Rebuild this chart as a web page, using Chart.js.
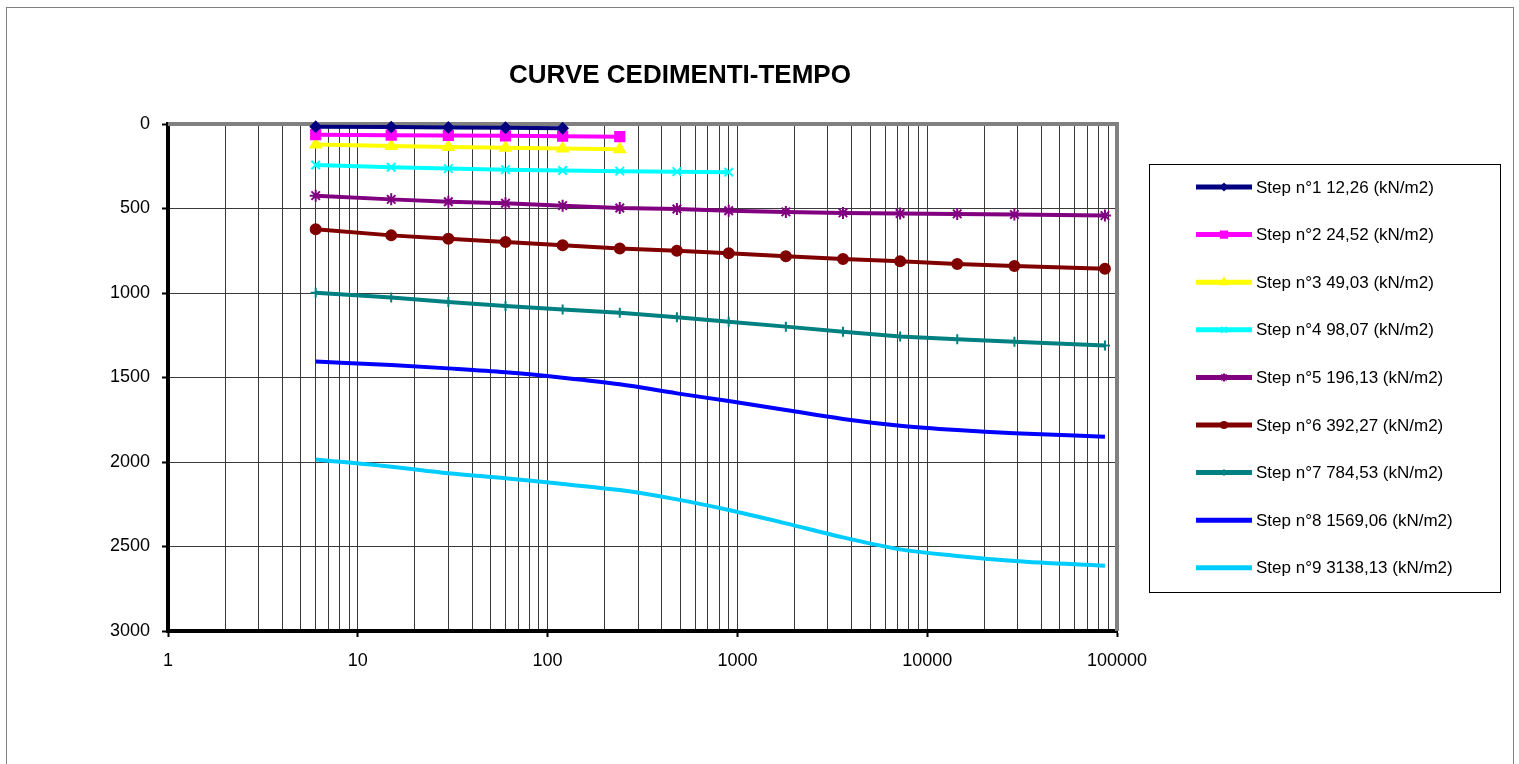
<!DOCTYPE html>
<html>
<head>
<meta charset="utf-8">
<title>Curve cedimenti-tempo</title>
<script src="https://cdn.jsdelivr.net/npm/chart.js@4.4.0/dist/chart.umd.min.js"></script>
<style>
    body { margin: 0; background: #fff; }
    #wrap { position: relative; width: 1519px; height: 764px; }
</style>
</head>
<body>
<div id="wrap"><canvas id="cedimenti_chart"></canvas></div>
<script>

// tempi di lettura (s)
const tempi = [6, 15, 30, 60, 120, 240, 480, 900, 1800, 3600, 7200, 14400, 28800, 86400];

const step_labels = [
    'Step n°1 12,26 (kN/m2)',
    'Step n°2 24,52 (kN/m2)',
    'Step n°3 49,03 (kN/m2)',
    'Step n°4 98,07 (kN/m2)',
    'Step n°5 196,13 (kN/m2)',
    'Step n°6 392,27 (kN/m2)',
    'Step n°7 784,53 (kN/m2)',
    'Step n°8 1569,06 (kN/m2)',
    'Step n°9 3138,13 (kN/m2)'
];

// cedimenti letti per ogni step
const step1 = [16, 18, 20, 22, 25];
const step2 = [63, 66, 68, 70, 72, 75];
const step3 = [122, 130, 136, 140, 145, 150];
const step4 = [243, 256, 264, 270, 275, 279, 282, 285];
const step5 = [424, 446, 460, 469, 483, 497, 503, 513, 520, 526, 530, 532, 536, 542];
const step6 = [623, 659, 679, 698, 718, 737, 750, 765, 783, 799, 812, 828, 840, 856];
const step7 = [998, 1027, 1053, 1077, 1097, 1117, 1144, 1170, 1199, 1229, 1257, 1274, 1288, 1310];
const step8 = [1406, 1426, 1446, 1469, 1501, 1540, 1594, 1639, 1692, 1745, 1785, 1811, 1830, 1850];
const step9 = [1985, 2028, 2067, 2096, 2130, 2166, 2221, 2284, 2363, 2446, 2517, 2556, 2586, 2614];

const y_ticks = [0, 500, 1000, 1500, 2000, 2500, 3000];
const decades = [1, 10, 100, 1000, 10000, 100000];

const colori = ['#000080', '#FF00FF', '#FFFF00', '#00FFFF', '#800080', '#800000', '#008080', '#0000FF', '#00CCFF'];
const marker = ['rectRot', 'rect', 'triangle', 'crossRot', 'star', 'circle', 'cross', false, false];
const marker_r = [5, 6.5, 6, 6, 6, 5, 5, 0, 0];

const FONT = 'Arial, "Liberation Sans", sans-serif';

function isDecade(v) {
    let l = Math.log10(v);
    return Math.abs(l - Math.round(l)) < 1e-9;
}

// griglia verticale 1..9 per ogni decade
let grid_values = [];
decades.forEach(function(d, i) {
    if (i === decades.length - 1) {
        grid_values.push(d);
        return;
    }
    for (let k = 1; k < 10; k++) grid_values.push(k * d);
});

function serie(valori) {
    return valori.map(function(v, i) { return {x: tempi[i], y: v}; });
}

const tutti = [step1, step2, step3, step4, step5, step6, step7, step8, step9];

let datasets = tutti.map(function(valori, i) {
    return {
        label: step_labels[i],
        data: serie(valori),
        borderColor: colori[i],
        backgroundColor: colori[i],
        borderWidth: 4,
        pointStyle: marker[i],
        pointRadius: marker_r[i],
        pointBackgroundColor: colori[i],
        pointBorderColor: colori[i],
        pointBorderWidth: 2,
        cubicInterpolationMode: i >= 7 ? 'monotone' : 'default',
        tension: 0,
        clip: 12
    };
});

// cornice, titolo e legenda disegnati a mano
const decorPlugin = {
    id: 'decor',
    beforeDraw(chart) {
        const ctx = chart.ctx;
        ctx.save();
        ctx.strokeStyle = '#808080';
        ctx.lineWidth = 1;
        ctx.strokeRect(6.5, 7.5, 1507, 800);
        ctx.restore();
    },
    beforeDatasetsDraw(chart) {
        const ctx = chart.ctx;
        const a = chart.chartArea;
        ctx.save();
        ctx.strokeStyle = '#808080';
        ctx.lineWidth = 4;
        ctx.beginPath();
        ctx.moveTo(a.left, a.top);
        ctx.lineTo(a.right, a.top);
        ctx.lineTo(a.right, a.bottom);
        ctx.stroke();
        ctx.restore();
    },
    afterDraw(chart) {
        const ctx = chart.ctx;
        ctx.save();

        // titolo
        ctx.fillStyle = '#000';
        ctx.font = 'bold 26px ' + FONT;
        ctx.textAlign = 'center';
        ctx.textBaseline = 'middle';
        ctx.fillText('CURVE CEDIMENTI-TEMPO', 680, 76);

        // legenda
        ctx.strokeStyle = '#000';
        ctx.lineWidth = 1;
        ctx.strokeRect(1149.5, 164.5, 351, 428);
        ctx.font = '17px ' + FONT;
        ctx.textAlign = 'left';
        chart.data.datasets.forEach(function(ds, i) {
            let y = 187 + i * 47.6;
            ctx.strokeStyle = ds.borderColor;
            ctx.lineWidth = 5;
            ctx.beginPath();
            ctx.moveTo(1196, y);
            ctx.lineTo(1252, y);
            ctx.stroke();
            if (ds.pointStyle) {
                ctx.fillStyle = ds.borderColor;
                ctx.lineWidth = 2;
                Chart.helpers.drawPoint(ctx, {pointStyle: ds.pointStyle, radius: Math.max(3, ds.pointRadius - 2), rotation: 0, borderWidth: 2}, 1224, y);
            }
            ctx.fillStyle = '#000';
            ctx.fillText(ds.label, 1256, y + 1);
        });
        ctx.restore();
    }
};

let ctx = document.getElementById('cedimenti_chart');

let line_chart = new Chart(ctx, {
    type: 'line',
    data: { datasets: datasets },
    options: {
        responsive: true,
        maintainAspectRatio: false,
        animation: false,
        layout: {
            padding: { top: 124, right: 402, bottom: 83, left: 0 }
        },
        plugins: {
            legend: { display: false },
            title: { display: false },
            tooltip: { enabled: false }
        },
        scales: {
            x: {
                type: 'logarithmic',
                min: 1,
                max: 100000,
                afterBuildTicks: function(scale) {
                    scale.ticks = grid_values.map(function(v) { return {value: v, major: isDecade(v)}; });
                },
                afterFit: function(scale) { scale.height = 50; },
                border: { display: true, color: '#000', width: 4 },
                grid: {
                    color: '#3a3a3a',
                    lineWidth: 1,
                    tickLength: 6,
                    tickWidth: 2,
                    tickColor: function(c) {
                        return c.tick && isDecade(c.tick.value) ? '#000' : 'rgba(0,0,0,0)';
                    }
                },
                ticks: {
                    autoSkip: false,
                    maxRotation: 0,
                    color: '#000',
                    padding: 13,
                    font: { family: FONT, size: 18 },
                    callback: function(value) {
                        return isDecade(value) ? String(value) : '';
                    }
                }
            },
            y: {
                reverse: true,
                min: 0,
                max: 3000,
                afterBuildTicks: function(scale) {
                    scale.ticks = y_ticks.map(function(v) { return {value: v}; });
                },
                afterFit: function(scale) { scale.width = 168; },
                border: { display: true, color: '#000', width: 4 },
                grid: {
                    color: '#3a3a3a',
                    lineWidth: 1,
                    tickLength: 6,
                    tickWidth: 2,
                    tickColor: '#000'
                },
                ticks: {
                    color: '#000',
                    padding: 12,
                    font: { family: FONT, size: 18 },
                    callback: function(value) { return String(value); }
                }
            }
        }
    },
    plugins: [decorPlugin]
});

</script>
</body>
</html>
